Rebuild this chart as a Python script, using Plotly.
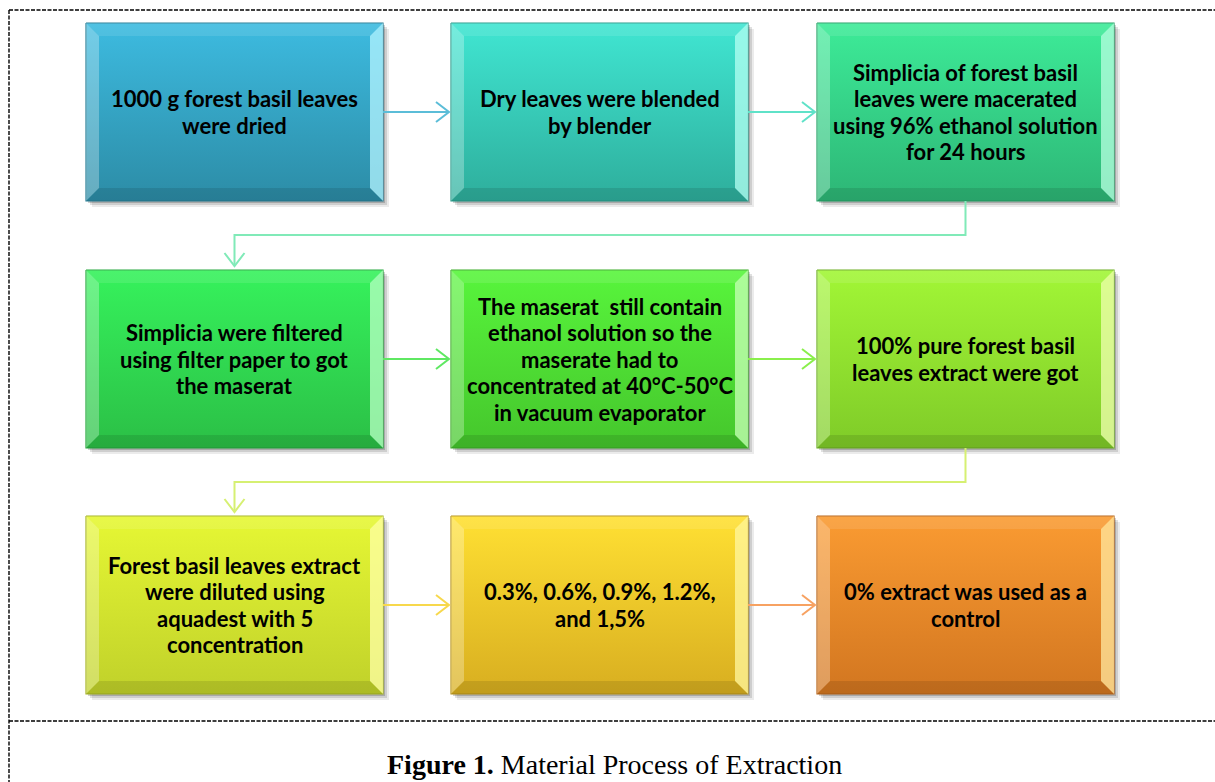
import plotly.graph_objects as go

# ---- data ----
steps = [
    "1000 g forest basil leaves<br>were dried",
    "Dry leaves were blended<br>by blender",
    "Simplicia of forest basil<br>leaves were macerated<br>using 96% ethanol solution<br>for 24 hours",
    "Simplicia were filtered<br>using filter paper to got<br>the maserat",
    "The maserat  still contain<br>ethanol solution so the<br>maserate had to<br>concentrated at 40°C-50°C<br>in vacuum evaporator",
    "100% pure forest basil<br>leaves extract were got",
    "Forest basil leaves extract<br>were diluted using<br>aquadest with 5<br>concentration",
    "0.3%, 0.6%, 0.9%, 1.2%,<br>and 1,5%",
    "0% extract was used as a<br>control",
]
top_colors = ["#3dbbe0", "#40e6d2", "#3deb98", "#36f25c", "#58f53c", "#a2f636", "#e6f734", "#ffe033", "#fa9b32"]
bottom_colors = ["#2c8ca6", "#2eae9c", "#2db676", "#2bbf46", "#45c62c", "#7fcb28", "#c0d12a", "#d8ae20", "#d27620"]
edge_colors = ["#2a7f96", "#2a9c8c", "#28a268", "#27a83e", "#3bab26", "#6cad22", "#a6b424", "#b8941c", "#b8661c"]
highlight_colors = ["#b4f4ff", "#b4fff2", "#b8ffe0", "#b8ffc4", "#c8ffb8", "#f0ffb0", "#ffffa8", "#fff7a0", "#ffe8a0"]
arrow_colors = ["#5bbdd8", "#5fe2c8", "#5fe862", "#8aef4c", "#f7d84c", "#f7a262"]
connector_colors = ["#80eab8", "#d6f072"]
caption_bold = "Figure 1."
caption_rest = " Material Process of Extraction"

# ---- layout constants ----
W, H = 1215, 782
col_x0 = [86, 451, 817]
row_y0 = [23, 270, 516]
BW, BH = 297, 178
BEV = 13
LINE_H = 26.5

fig = go.Figure()

def poly(xs, ys, color, **kw):
    fig.add_trace(go.Scatter(x=xs + [xs[0]], y=ys + [ys[0]], mode="lines", fill="toself",
                             fillcolor=color, line=dict(width=0, color=color),
                             hoverinfo="skip", showlegend=False, **kw))

def line(xs, ys, color, width=2):
    fig.add_trace(go.Scatter(x=xs, y=ys, mode="lines", line=dict(color=color, width=width),
                             hoverinfo="skip", showlegend=False))

boxes = []
for i, txt in enumerate(steps):
    r, c = divmod(i, 3)
    x0, y0 = col_x0[c], row_y0[r]
    x1, y1 = x0 + BW, y0 + BH
    boxes.append((x0, y0, x1, y1))
    # shadow
    for k, op in [(6, 0.08), (4, 0.12), (2, 0.18)]:
        poly([x0 + k, x1 + k, x1 + k, x0 + k], [y0 + k, y0 + k, y1 + k, y1 + k], f"rgba(0,0,0,{op})")
    # main gradient body
    fig.add_trace(go.Scatter(x=[x0, x1, x1, x0, x0], y=[y0, y0, y1, y1, y0], mode="lines",
                             fill="toself", line=dict(width=1.2, color=edge_colors[i]),
                             fillgradient=dict(type="vertical", start=y0, stop=y1,
                                               colorscale=[[0, top_colors[i]], [1, bottom_colors[i]]]),
                             hoverinfo="skip", showlegend=False))
    # bevels
    b = BEV
    poly([x0, x0 + b, x0 + b, x0], [y0, y0 + b, y1 - b, y1], "rgba(255,255,255,0.28)")
    poly([x1, x1 - b, x1 - b, x1], [y0, y0 + b, y1 - b, y1], highlight_colors[i], opacity=0.75)
    poly([x0, x1, x1 - b, x0 + b], [y0, y0, y0 + b, y0 + b], "rgba(255,255,255,0.10)")
    poly([x0, x1, x1 - b, x0 + b], [y1, y1, y1 - b, y1 - b], "rgba(0,0,0,0.10)")
    lines = txt.split("<br>")
    n = len(lines)
    cy = (y0 + y1) / 2
    for j, ln in enumerate(lines):
        fig.add_annotation(x=(x0 + x1) / 2, y=cy + (j - (n - 1) / 2) * LINE_H, text=f"<b>{ln}</b>",
                           showarrow=False,
                           font=dict(family="Lato, Open Sans, sans-serif", size=22, color="black"),
                           align="center", xanchor="center", yanchor="middle")

def chevron_right(xt, yt, color):
    line([xt - 13, xt, xt - 13], [yt - 10, yt, yt + 10], color)

def chevron_down(xt, yt, color):
    line([xt - 10, xt, xt + 10], [yt - 13, yt, yt - 13], color)

# horizontal arrows within rows
ai = 0
for r in range(3):
    for c in range(2):
        bx0, by0, bx1, by1 = boxes[r * 3 + c]
        nx0 = boxes[r * 3 + c + 1][0]
        ym = (by0 + by1) / 2
        col = arrow_colors[ai]
        line([bx1, nx0 - 2], [ym, ym], col)
        chevron_right(nx0 - 2, ym, col)
        ai += 1

# elbow connectors between rows
for r in range(2):
    bx0, by0, bx1, by1 = boxes[r * 3 + 2]
    tx0, ty0, tx1, ty1 = boxes[(r + 1) * 3]
    xs = (bx0 + bx1) / 2
    xe = (tx0 + tx1) / 2
    ymid = by1 + 34
    col = connector_colors[r]
    line([xs, xs, xe, xe], [by1, ymid, ymid, ty0 - 4], col)
    chevron_down(xe, ty0 - 4, col)

# dashed frame
frame = dict(color="black", width=1.4, dash="4px,1.5px")
fig.add_shape(type="line", x0=9, x1=W, y0=10, y1=10, line=frame)
fig.add_shape(type="line", x0=9, x1=9, y0=10, y1=H, line=frame)
fig.add_shape(type="line", x0=9, x1=W, y0=721, y1=721, line=frame)

fig.add_annotation(x=614, y=764, text=f"<b>{caption_bold}</b>{caption_rest}", showarrow=False,
                   font=dict(family="Liberation Serif, Times New Roman, serif", size=28, color="black"),
                   xanchor="center", yanchor="middle")

fig.update_layout(width=W, height=H, margin=dict(l=0, r=0, t=0, b=0),
                  paper_bgcolor="white", plot_bgcolor="white", showlegend=False,
                  xaxis=dict(range=[0, W], visible=False, fixedrange=True),
                  yaxis=dict(range=[H, 0], visible=False, fixedrange=True))

fig.write_html("out.html", config={"displayModeBar": False},
               post_script="document.body.style.margin='0';document.body.style.overflow='hidden';")
